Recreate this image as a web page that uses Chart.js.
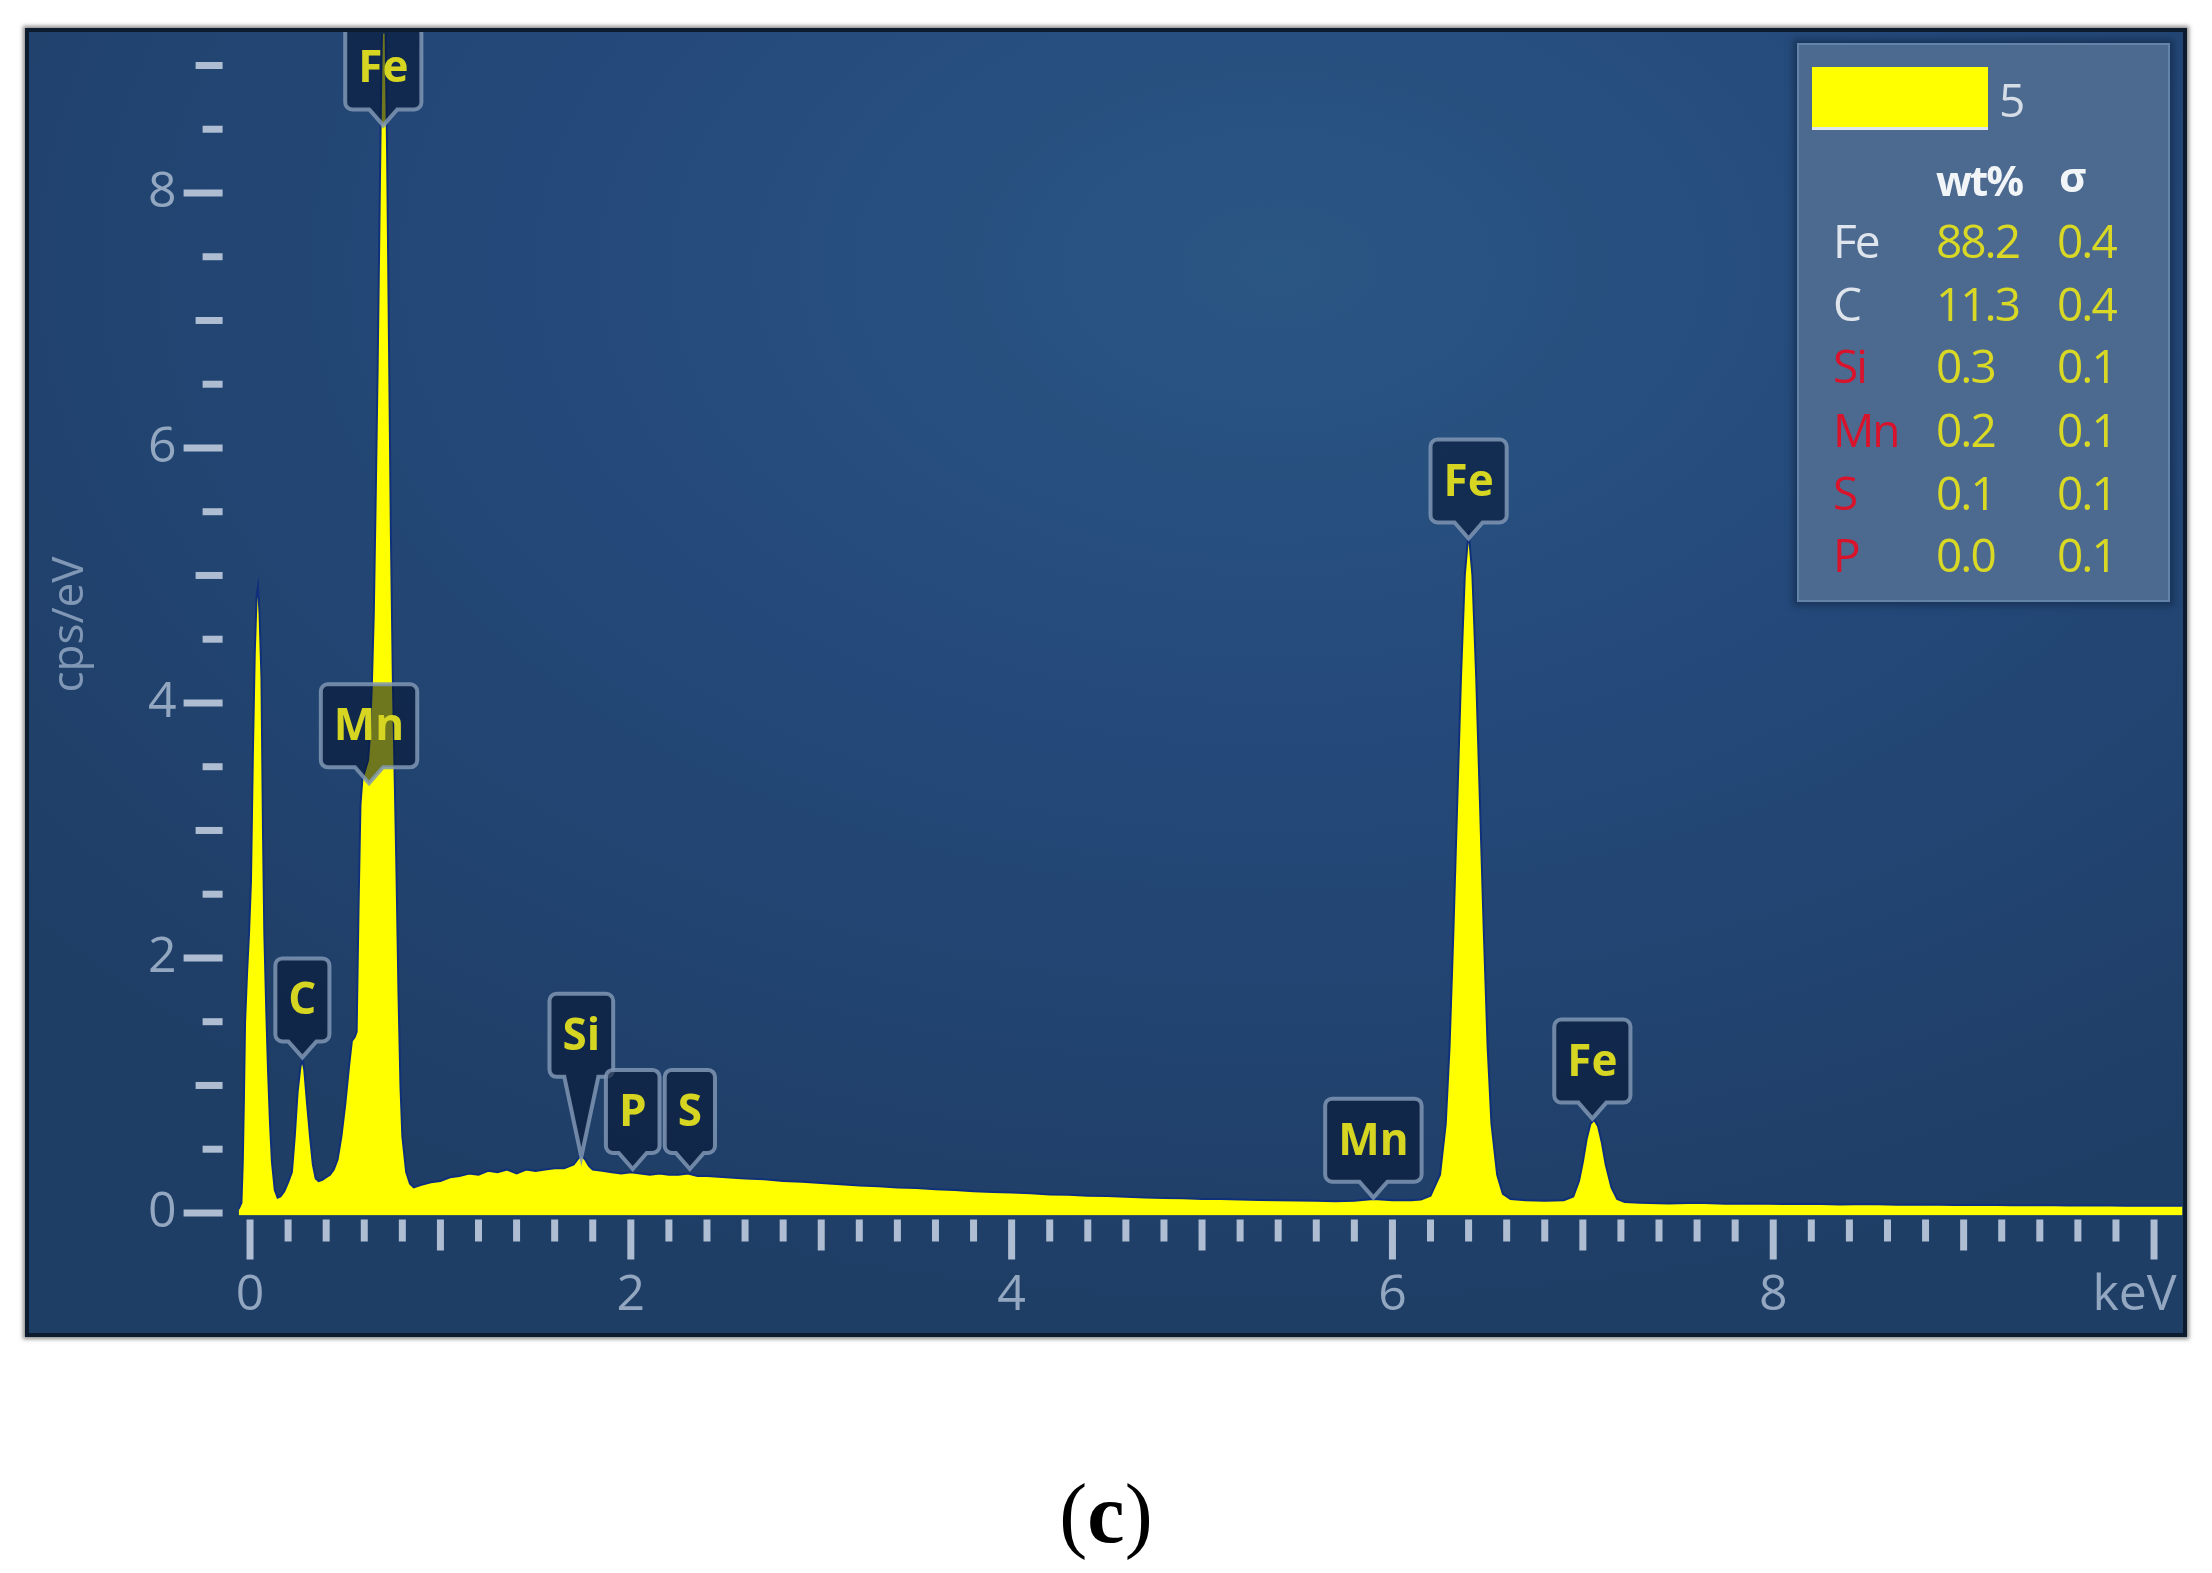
<!DOCTYPE html>
<html>
<head>
<meta charset="utf-8">
<script src="https://cdn.jsdelivr.net/npm/chart.js@4.4.1/dist/chart.umd.min.js"></script>
<style>
  body { margin: 0; width: 2212px; height: 1573px; background: #fff; overflow: hidden; font-family: "Open Sans", sans-serif; }
  #panel {
    position: absolute; left: 25px; top: 28px; width: 2154px; height: 1301px;
    border: 4px solid #0d1b2f;
    box-shadow: 0 0 4px 2px rgba(90, 90, 90, 0.7);
    background: radial-gradient(ellipse 75% 80% at 58% 18%, #2a5684 0%, #24497a 45%, #1f3e66 100%);
  }
  #spectrum { position: absolute; left: 0; top: 0; }
  #legendBox {
    position: absolute; left: 1768px; top: 11px; width: 373px; height: 559px; box-sizing: border-box;
    background: #4c6a8f; border: 2px solid #6483a8;
    box-shadow: 0 0 6px 4px rgba(18, 38, 68, 0.55);
  }
  #legendBox div { position: absolute; white-space: nowrap; line-height: 60px; height: 60px; }
  .swatch { left: 13px; top: 22px; width: 176px; height: 60px !important; background: #ffff00; border-bottom: 3px solid #dfe6ee; }
  .cell { font-size: 46px; letter-spacing: -2px; }
  .head { font-size: 42px; font-weight: 700; letter-spacing: -2px; color: #f2f5f8; }
  #caption {
    position: absolute; left: 0; width: 2212px; top: 1464px; text-align: center;
    font-family: "Liberation Serif", serif; font-size: 84px; line-height: 100px; color: #000;
  }
</style>
</head>
<body>
<div id="panel">
  <canvas id="spectrum" width="2154" height="1301"></canvas>
  <div id="legendBox"></div>
</div>
<div id="caption">(<b>c</b>)</div>
<script>
// spectrum: energy (keV) and counts (cps/eV)
const energyKeV = [
  -0.06, -0.045, -0.038, -0.032, -0.026, -0.015, -0.005, 0.005, 0.015, 0.025,
  0.035, 0.042, 0.05, 0.06, 0.068, 0.075, 0.085, 0.095, 0.105, 0.115,
  0.13, 0.145, 0.16, 0.18, 0.20, 0.22, 0.235, 0.25, 0.265, 0.275,
  0.285, 0.30, 0.315, 0.33, 0.345, 0.36, 0.38, 0.40, 0.42, 0.44,
  0.46, 0.48, 0.50, 0.52, 0.535, 0.55, 0.56, 0.57, 0.58, 0.59,
  0.60, 0.61, 0.62, 0.63, 0.64, 0.65, 0.66, 0.67, 0.68, 0.69,
  0.70, 0.71, 0.72, 0.73, 0.74, 0.75, 0.76, 0.77, 0.78, 0.79,
  0.80, 0.82, 0.84, 0.86, 0.88, 0.90, 0.95, 1.00, 1.05, 1.10,
  1.15, 1.20, 1.25, 1.30, 1.35, 1.40, 1.45, 1.50, 1.55, 1.60,
  1.65, 1.70, 1.72, 1.74, 1.76, 1.78, 1.80, 1.85, 1.90, 1.95,
  2.00, 2.05, 2.10, 2.15, 2.20, 2.25, 2.30, 2.35, 2.40, 2.50,
  2.60, 2.70, 2.80, 2.90, 3.00, 3.10, 3.20, 3.30, 3.40, 3.50,
  3.60, 3.70, 3.80, 3.90, 4.00, 4.10, 4.20, 4.30, 4.40, 4.50,
  4.60, 4.70, 4.80, 4.90, 5.00, 5.10, 5.20, 5.30, 5.40, 5.50,
  5.60, 5.70, 5.80, 5.90, 6.00, 6.10, 6.15, 6.20, 6.25, 6.28,
  6.30, 6.32, 6.34, 6.36, 6.38, 6.40, 6.42, 6.44, 6.46, 6.48,
  6.50, 6.52, 6.55, 6.58, 6.62, 6.70, 6.80, 6.90, 6.95, 6.98,
  7.00, 7.02, 7.04, 7.06, 7.08, 7.10, 7.12, 7.15, 7.18, 7.22,
  7.30, 7.45, 7.60, 7.75, 7.90, 8.05, 8.20, 8.35, 8.50, 8.65,
  8.80, 8.95, 9.10, 9.25, 9.40, 9.55, 9.70, 9.85, 10.00, 10.15
];
const countsCps = [
  0.03, 0.08, 0.4, 0.9, 1.5, 1.9, 2.2, 2.6, 3.6, 4.4,
  4.85, 4.92, 4.7, 4.2, 3.0, 2.2, 1.6, 1.1, 0.7, 0.4,
  0.18, 0.12, 0.13, 0.17, 0.24, 0.32, 0.6, 0.95, 1.15, 1.2,
  1.12, 0.85, 0.6, 0.38, 0.27, 0.25, 0.26, 0.28, 0.3, 0.34,
  0.42, 0.6, 0.85, 1.15, 1.35, 1.38, 1.42, 2.4, 3.2, 3.4,
  3.45, 3.5, 3.55, 3.75, 4.15, 4.7, 5.6, 6.6, 7.8, 9.0,
  9.8, 9.5, 8.3, 6.8, 5.3, 4.2, 3.4, 2.6, 1.7, 1.0,
  0.6, 0.32, 0.23, 0.2, 0.21, 0.22, 0.24, 0.25, 0.28, 0.29,
  0.31, 0.30, 0.33, 0.32, 0.34, 0.31, 0.34, 0.33, 0.34, 0.35,
  0.35, 0.38, 0.42, 0.45, 0.42, 0.37, 0.34, 0.33, 0.32, 0.31,
  0.32, 0.31, 0.30, 0.31, 0.30, 0.30, 0.31, 0.29, 0.29, 0.28,
  0.27, 0.265, 0.25, 0.245, 0.235, 0.225, 0.215, 0.21, 0.2, 0.195,
  0.185, 0.18, 0.17, 0.165, 0.16, 0.155, 0.145, 0.143, 0.135, 0.132,
  0.127, 0.122, 0.118, 0.115, 0.11, 0.11, 0.105, 0.102, 0.1, 0.097,
  0.095, 0.092, 0.095, 0.11, 0.1, 0.1, 0.105, 0.135, 0.3, 0.7,
  1.3, 2.2, 3.2, 4.2, 5.0, 5.35, 5.0, 4.2, 3.2, 2.2,
  1.3, 0.7, 0.3, 0.15, 0.11, 0.1, 0.095, 0.1, 0.13, 0.25,
  0.4, 0.58, 0.7, 0.73, 0.68, 0.55, 0.38, 0.2, 0.11, 0.085,
  0.08, 0.075, 0.08, 0.072, 0.075, 0.07, 0.072, 0.066, 0.07, 0.065,
  0.066, 0.062, 0.065, 0.06, 0.062, 0.058, 0.06, 0.056, 0.057, 0.056
];

// peak markers: element, line energy (keV), height of the pointer tip (cps/eV)
const peakLabels = ['Fe', 'Mn', 'C', 'Si', 'P', 'S', 'Mn', 'Fe', 'Fe'];
const peakEnergy = [0.70, 0.625, 0.275, 1.74, 2.01, 2.31, 5.90, 6.40, 7.05];
const peakTip    = [8.53, 3.37, 1.22, 0.44, 0.345, 0.345, 0.12, 5.29, 0.74];

// quantification table
const seriesName = '5';
const quantElements = ['Fe', 'C', 'Si', 'Mn', 'S', 'P'];
const quantWt    = ['88.2', '11.3', '0.3', '0.2', '0.1', '0.0'];
const quantSigma = ['0.4', '0.4', '0.1', '0.1', '0.1', '0.1'];

const axisText = '#93a7c1';
const tickColor = '#aebdd1';
const yellow = '#ffff00';

// ticks of three lengths, drawn a little away from the plot like the instrument software does
const tickMarks = {
  id: 'tickMarks',
  afterDraw(chart) {
    const {ctx, chartArea, scales: {x, y}} = chart;
    ctx.save();
    ctx.strokeStyle = tickColor;
    ctx.lineWidth = 7;
    const yRight = chartArea.left - 16;
    for (let i = 0; i <= 18; i++) {
      const py = y.getPixelForValue(i * 0.5);
      const len = i % 4 === 0 ? 39 : (i % 2 === 0 ? 27 : 20);
      ctx.beginPath();
      ctx.moveTo(yRight - len, py);
      ctx.lineTo(yRight, py);
      ctx.stroke();
    }
    const xTop = chartArea.bottom + 4;
    for (let i = 0; i <= 50; i++) {
      const px = x.getPixelForValue(i * 0.2);
      const len = i % 10 === 0 ? 40 : (i % 5 === 0 ? 31 : 22);
      ctx.beginPath();
      ctx.moveTo(px, xTop);
      ctx.lineTo(px, xTop + len);
      ctx.stroke();
    }
    ctx.restore();
  }
};

function markerPath(ctx, cx, top, w, h, tail, half, r) {
  const l = cx - w / 2, rt = cx + w / 2, b = top + h;
  ctx.beginPath();
  ctx.moveTo(l + r, top);
  ctx.lineTo(rt - r, top);
  ctx.arcTo(rt, top, rt, top + r, r);
  ctx.lineTo(rt, b - r);
  ctx.arcTo(rt, b, rt - r, b, r);
  ctx.lineTo(cx + half, b);
  ctx.lineTo(cx, b + tail);
  ctx.lineTo(cx - half, b);
  ctx.lineTo(l + r, b);
  ctx.arcTo(l, b, l, b - r, r);
  ctx.lineTo(l, top + r);
  ctx.arcTo(l, top, l + r, top, r);
  ctx.closePath();
}

const peakMarkers = {
  id: 'peakMarkers',
  afterDatasetsDraw(chart) {
    const {ctx, scales: {x, y}} = chart;
    ctx.save();
    ctx.font = '700 44px "Open Sans"';
    ctx.textAlign = 'center';
    ctx.textBaseline = 'middle';
    peakLabels.forEach((txt, i) => {
      const cx = x.getPixelForValue(peakEnergy[i]);
      const tipY = y.getPixelForValue(peakTip[i]);
      const tail = txt === 'Si' ? 80 : 16;
      const half = txt === 'Si' ? 17 : 14;
      const h = 83;
      const w = ctx.measureText(txt).width + 26;
      const top = tipY - tail - h;
      markerPath(ctx, cx, top, w, h, tail, half, 7);
      ctx.fillStyle = 'rgba(6, 20, 50, 0.58)';
      ctx.fill();
      ctx.lineWidth = 4;
      ctx.strokeStyle = 'rgba(128, 150, 180, 0.85)';
      ctx.stroke();
      ctx.fillStyle = '#d6d622';
      ctx.fillText(txt, cx, top + h / 2 + 2);
    });
    ctx.restore();
  }
};

const ctx = document.getElementById('spectrum').getContext('2d');
Chart.defaults.font.family = '"Open Sans", sans-serif';

const spectrumChart = new Chart(ctx, {
  type: 'line',
  data: {
    datasets: [{
      label: seriesName,
      data: energyKeV.map((e, i) => ({x: e, y: countsCps[i]})),
      fill: 'start',
      backgroundColor: yellow,
      borderColor: '#10307c',
      borderWidth: 2,
      pointRadius: 0,
      tension: 0
    }]
  },
  options: {
    responsive: false,
    animation: false,
    layout: { padding: { top: 1.6, right: 0.4, left: 0, bottom: 0 } },
    plugins: { legend: { display: false }, tooltip: { enabled: false } },
    scales: {
      x: {
        type: 'linear',
        min: -0.06,
        max: 10.15,
        afterFit(s) { s.height = 117.5; s.paddingLeft = 0; s.paddingRight = 0; },
        grid: { display: false, drawTicks: false },
        border: { display: false },
        ticks: {
          stepSize: 2, includeBounds: false, autoSkip: false, maxRotation: 0,
          padding: 50, color: axisText, font: { size: 50 },
          callback: v => v === 10 ? 'keV   ' : v
        }
      },
      y: {
        min: -0.02,
        max: 9.25,
        afterFit(s) { s.width = 209.6; s.paddingTop = 0; s.paddingBottom = 0; },
        grid: { display: false, drawTicks: false },
        border: { display: false },
        ticks: {
          stepSize: 2, includeBounds: false, autoSkip: false,
          padding: 62, color: axisText, font: { size: 50 }
        },
        title: {
          display: true, text: 'cps/eV', color: '#8097b5',
          font: { size: 44 }, padding: { top: 15, bottom: 0 }
        }
      }
    }
  },
  plugins: [tickMarks, peakMarkers]
});

// legend with the quantification table
const box = document.getElementById('legendBox');
function put(text, left, centerY, cls, color) {
  const d = document.createElement('div');
  d.className = cls;
  d.textContent = text;
  d.style.left = left + 'px';
  d.style.top = (centerY - 30) + 'px';
  if (color) d.style.color = color;
  box.appendChild(d);
}
const sw = document.createElement('div');
sw.className = 'swatch';
sw.style.background = spectrumChart.data.datasets[0].backgroundColor;
box.appendChild(sw);
put(seriesName, 200, 54, 'cell', '#d6dde7');
put('wt%', 137, 135, 'head');
put('σ', 260, 131, 'head');
const nameColors = ['#dfe5ec', '#dfe5ec', '#d8132b', '#d8132b', '#d8132b', '#d8132b'];
const rowY = [195, 258, 320, 384, 447, 509];
quantElements.forEach((el, i) => {
  put(el, 34, rowY[i], 'cell', nameColors[i]);
  put(quantWt[i], 137, rowY[i], 'cell', '#d9d925');
  put(quantSigma[i], 258, rowY[i], 'cell', '#d9d925');
});
</script>
</body>
</html>
